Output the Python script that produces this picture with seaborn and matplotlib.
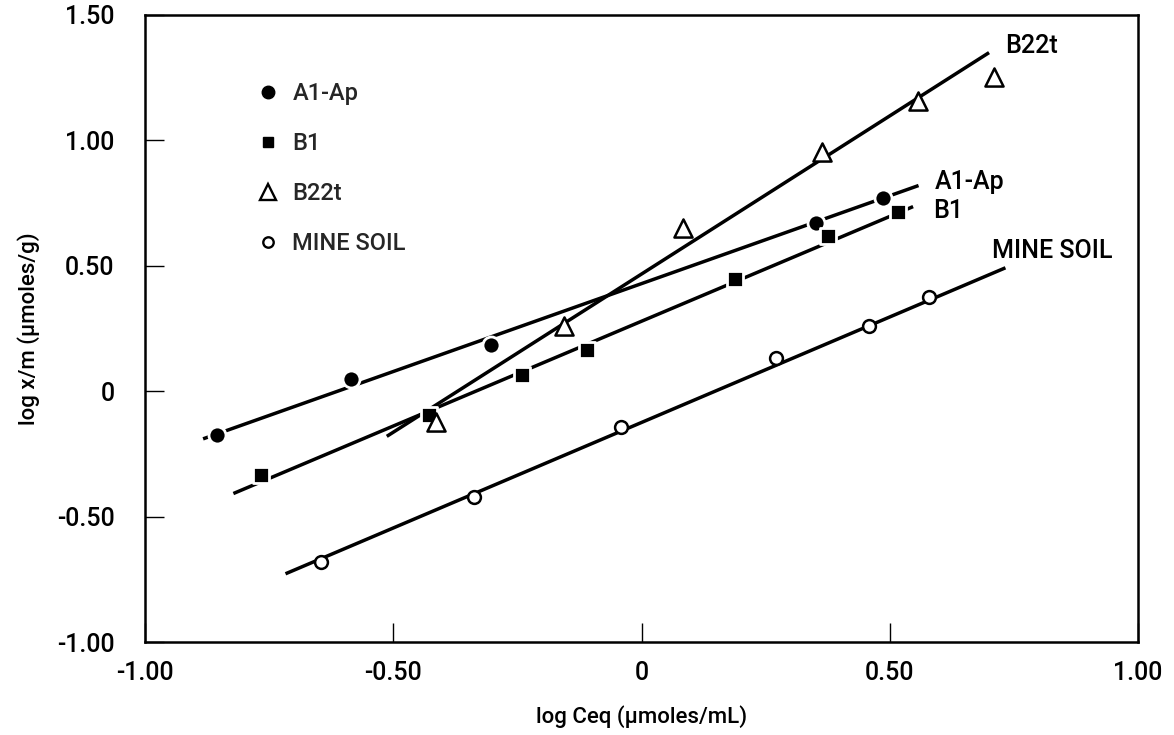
import matplotlib
matplotlib.use("Agg")
import matplotlib.pyplot as plt
import seaborn as sns
from matplotlib.lines import Line2D

# ---- data ----
a1_x = [-0.855, -0.586, -0.303, 0.352, 0.487]
a1_y = [-0.176, 0.048, 0.184, 0.672, 0.772]
b1_x = [-0.766, -0.428, -0.240, -0.109, 0.188, 0.376, 0.517]
b1_y = [-0.336, -0.096, 0.064, 0.164, 0.448, 0.620, 0.716]
b22_x = [-0.414, -0.156, 0.083, 0.364, 0.556, 0.709]
b22_y = [-0.124, 0.260, 0.652, 0.952, 1.156, 1.252]
mine_x = [-0.646, -0.337, -0.042, 0.271, 0.459, 0.580]
mine_y = [-0.680, -0.420, -0.144, 0.132, 0.260, 0.376]

# fitted lines (end points)
a1_line_x = [-0.883, 0.558]
a1_line_y = [-0.190, 0.820]
b1_line_x = [-0.822, 0.547]
b1_line_y = [-0.408, 0.736]
b22_line_x = [-0.513, 0.700]
b22_line_y = [-0.180, 1.350]
mine_line_x = [-0.717, 0.733]
mine_line_y = [-0.728, 0.492]

series_names = ["A1-Ap", "B1", "B22t", "MINE SOIL"]
label_pos_x = [0.590, 0.588, 0.732, 0.705]
label_pos_y = [0.836, 0.720, 1.376, 0.560]

x_ticks = [-1.0, -0.5, 0.0, 0.5, 1.0]
x_ticklabels = ["-1.00", "-0.50", "0", "0.50", "1.00"]
y_ticks = [-1.0, -0.5, 0.0, 0.5, 1.0, 1.5]
y_ticklabels = ["-1.00", "-0.50", "0", "0.50", "1.00", "1.50"]

sns.set_style("white")
FONT = ["Roboto", "Liberation Sans", "DejaVu Sans"]
plt.rcParams["font.family"] = FONT
plt.rcParams["font.weight"] = "medium"

fig = plt.figure(figsize=(11.74, 7.35), dpi=100)
ax = fig.add_axes([145 / 1174, 1 - 642 / 735, (1138 - 145) / 1174, (642 - 15) / 735])

LW = 2.5
lines = [(a1_line_x, a1_line_y), (b1_line_x, b1_line_y),
         (b22_line_x, b22_line_y), (mine_line_x, mine_line_y)]
for lx, ly in lines:
    sns.lineplot(x=lx, y=ly, ax=ax, color="black", linewidth=LW,
                 solid_capstyle="butt", zorder=2, estimator=None, sort=False)

# filled markers with white rims (gaps in the lines)
sns.scatterplot(x=a1_x, y=a1_y, ax=ax, marker="o", s=150, color="black",
                edgecolor="white", linewidth=2.0, zorder=3)
sns.scatterplot(x=b1_x, y=b1_y, ax=ax, marker="s", s=120, color="black",
                edgecolor="white", linewidth=2.0, zorder=3)
# open markers
sns.scatterplot(x=b22_x, y=b22_y, ax=ax, marker="^", s=170, facecolor="white",
                edgecolor="black", linewidth=1.8, zorder=4)
sns.scatterplot(x=mine_x, y=mine_y, ax=ax, marker="o", s=85, facecolor="white",
                edgecolor="black", linewidth=1.8, zorder=4)

for name, tx, ty in zip(series_names, label_pos_x, label_pos_y):
    ax.text(tx, ty, name, fontsize=18, ha="left", va="center", color="black",
            fontweight="medium")

handles = [
    Line2D([], [], ls="none", marker="o", ms=9, mfc="black", mec="black"),
    Line2D([], [], ls="none", marker="s", ms=7, mfc="black", mec="black"),
    Line2D([], [], ls="none", marker="^", ms=11, mfc="white", mec="black", mew=1.7),
    Line2D([], [], ls="none", marker="o", ms=7.5, mfc="white", mec="black", mew=1.7),
]
ax.legend(handles, series_names, loc="upper left", bbox_to_anchor=(0.114, 0.893),
          frameon=False, fontsize=17, handlelength=0.8, handletextpad=0.65,
          labelspacing=1.14, borderpad=0, borderaxespad=0)

ax.set_xlim(-1.0, 1.0)
ax.set_ylim(-1.0, 1.5)
ax.set_xticks(x_ticks)
ax.set_xticklabels(x_ticklabels)
ax.set_yticks(y_ticks)
ax.set_yticklabels(y_ticklabels)
ax.tick_params(axis="both", which="both", direction="in", length=14, width=1.0,
               labelsize=18, colors="black", bottom=True, left=True,
               top=False, right=False)
ax.tick_params(axis="x", pad=14)
ax.tick_params(axis="y", pad=22)
for sp in ax.spines.values():
    sp.set_visible(True)
    sp.set_color("black")
    sp.set_linewidth(1.8)

ax.set_xlabel("log Ceq (μmoles/mL)", fontsize=16, labelpad=14,
              fontweight="medium", color="black")
ax.set_ylabel("log x/m (μmoles/g)", fontsize=16, labelpad=12,
              fontweight="medium", color="black")

fig.savefig("out.png", dpi=100, facecolor="white")
